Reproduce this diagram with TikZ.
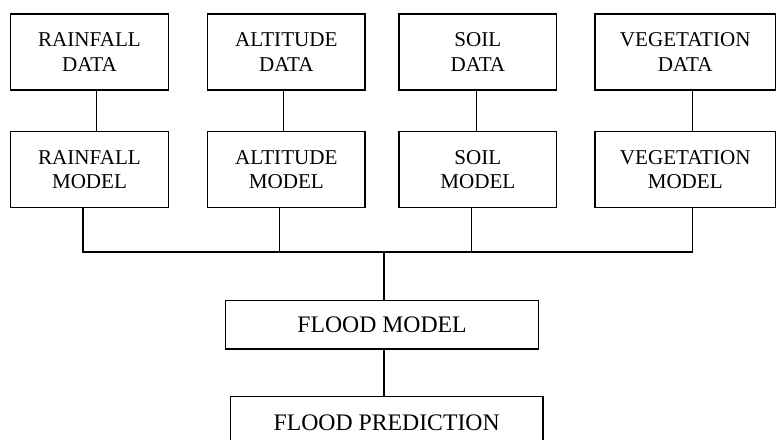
\documentclass[tikz,border=0pt]{standalone}
\usepackage{fontspec}
\setmainfont{Liberation Serif}
\usepackage{tikz}

\begin{document}
\begin{tikzpicture}[line width=0.7pt,
  box/.style={draw, rectangle, align=center, inner sep=0pt, minimum width=3.152cm, minimum height=1.52cm, font=\fontsize{12}{13.8}\selectfont},
  wide/.style={draw, rectangle, inner sep=0pt, minimum width=6.25cm, font=\fontsize{13.5}{15}\selectfont}]
\clip (0,0) rectangle (15.52,8.8);

\node[box] (RD) at (1.79,7.76) {RAINFALL\\DATA};
\node[box] (AD) at (5.726,7.76) {ALTITUDE\\DATA};
\node[box] (SD) at (9.558,7.76) {SOIL\\DATA};
\node[box, minimum width=3.61cm] (VD) at (13.705,7.76) {VEGETATION\\DATA};

\node[box] (RM) at (1.79,5.412) {RAINFALL\\MODEL};
\node[box] (AM) at (5.726,5.412) {ALTITUDE\\MODEL};
\node[box] (SM) at (9.558,5.412) {SOIL\\MODEL};
\node[box, minimum width=3.61cm] (VM) at (13.705,5.412) {VEGETATION\\MODEL};

\node[wide, minimum height=0.966cm] (FM) at (7.64,2.303) {FLOOD MODEL};
\node[wide, minimum height=1.052cm] (FP) at (7.734,0.34) {FLOOD PREDICTION};

% data to model
\draw ([xshift=0.136cm]RD.south) -- ([xshift=0.136cm]RM.north);
\draw ([xshift=-0.06cm]AD.south) -- ([xshift=-0.06cm]AM.north);
\draw ([xshift=-0.024cm]SD.south) -- ([xshift=-0.024cm]SM.north);
\draw ([xshift=0.146cm]VD.south) -- ([xshift=0.146cm]VM.north);

% models to flood model
\coordinate (bus) at (7.68,3.76);
\coordinate (r) at ([xshift=-0.13cm]RM.south);
\coordinate (a) at ([xshift=-0.14cm]AM.south);
\coordinate (s) at ([xshift=-0.124cm]SM.south);
\coordinate (v) at ([xshift=0.146cm]VM.south);
\draw (r) |- (bus) -| (v);
\draw (a) -- (a |- bus);
\draw (s) -- (s |- bus);
\draw (bus) -- (bus |- FM.north);
\draw (bus |- FM.south) -- (bus |- FP.north);
\end{tikzpicture}
\end{document}
